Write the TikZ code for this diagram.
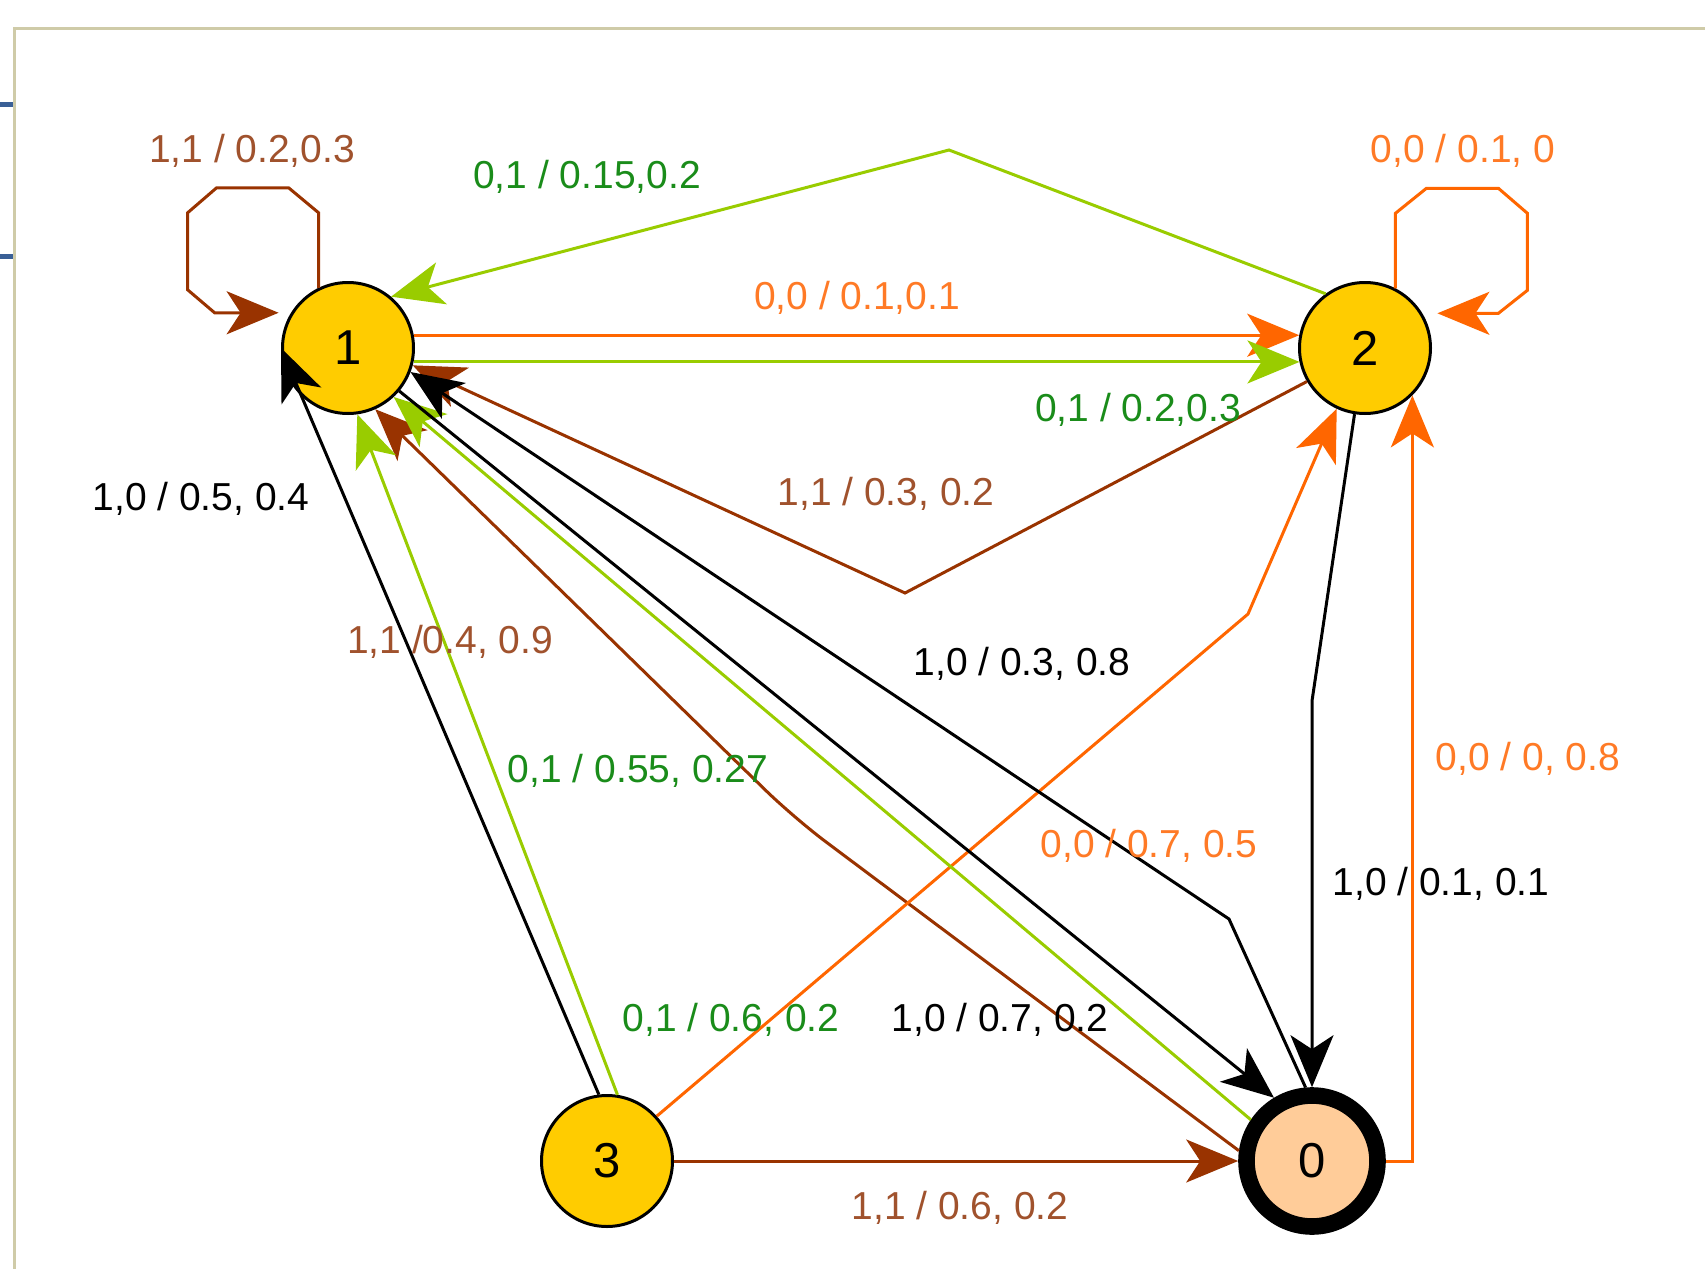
\documentclass[tikz,border=0pt]{standalone}
\usepackage{fontspec}
\setmainfont{Liberation Sans}
\usetikzlibrary{arrows.meta}

\definecolor{stategold}{HTML}{FFCC00}
\definecolor{statepeach}{HTML}{FFCC99}
\definecolor{edgebrown}{HTML}{993300}
\definecolor{edgeorange}{HTML}{FF6600}
\definecolor{edgegreen}{HTML}{99CC00}
\definecolor{txtbrown}{HTML}{A0522D}
\definecolor{txtorange}{HTML}{FF7A26}
\definecolor{txtgreen}{HTML}{1A8C1A}
\definecolor{framekhaki}{HTML}{CFCBA8}
\definecolor{tickblue}{HTML}{3A6096}

\begin{document}
\begin{tikzpicture}[
    x=0.5pt,y=-0.5pt,>={Stealth[length=26pt,width=21.5pt,inset=7pt]},
    state/.style={circle,draw=black,line width=1.5pt,fill=stategold,
      minimum size=65.5pt,inner sep=0pt,font=\fontsize{24.5}{28}\selectfont},
    final/.style={state,fill=statepeach,line width=8.3pt},
    trans/.style={->,line width=1.5pt},
    lbl/.style={font=\fontsize{19.5}{22}\selectfont,inner sep=0pt,yshift=-1.5pt}
  ]
    \useasboundingbox (0,0) rectangle (1705,1269);

    % Rahmen des Fensters
    \draw[framekhaki,line width=1.5pt] (14.5,1269) -- (14.5,28) -- (1705,28);
    \draw[tickblue,line width=2.5pt] (0,104.5) -- (13,104.5);
    \draw[tickblue,line width=2.5pt] (0,256.5) -- (13,256.5);

    % Zustaende
    \node[state] (s1) at (348,348) {1};
    \node[state] (s2) at (1365,348) {2};
    \node[state] (s3) at (607,1161) {3};
    \node[final] (s0) at (1312,1161) {0};

    % Knickpunkte
    \coordinate (peak) at (949,150);
    \coordinate (dip) at (905,593);
    \coordinate (knee) at (794,818);
    \coordinate (elbow) at (1229,919);
    \coordinate (bendA) at (1248,614);
    \coordinate (bendB) at (1312,701);

    % Eingabe 1,1
    \draw[trans,edgebrown] (s1.116) -- ++(0,-75) -- ++(-30,-25) -- ++(-72,0)
      -- ++(-29,25) -- ++(0,77) -- ++(27,23) -- ++(64,0);
    \draw[trans,edgebrown] (s2.210) -- (dip) -- (s1.-15);
    \draw[trans,edgebrown,rounded corners=20pt] (s0.172) -- (knee) -- (s1.-66);
    \draw[trans,edgebrown] (s3) -- (s0);

    % Eingabe 0,0
    \draw[trans,edgeorange] (s2.63) -- ++(0,-75) -- ++(31,-25) -- ++(72,0)
      -- ++(29,25) -- ++(0,77) -- ++(-29,23) -- ++(-61,0);
    \draw[trans,edgeorange] (s1.11) -- (s2.169);
    \draw[trans,edgeorange] (s3.42) -- (bendA) -- (s2.245);
    \draw[trans,edgeorange] (s0.east) -| (s2.-45);

    % Eingabe 0,1
    \draw[trans,edgegreen] (s2.126) -- (peak) -- (s1.50);
    \draw[trans,edgegreen] (s1.-12) -- (s2.192);
    \draw[trans,edgegreen] (s3.81) -- (s1.-82);
    \draw[trans,edgegreen] (s0.146) -- (s1.-47);

    % Eingabe 1,0
    \draw[trans] (s3.97) -- (s1.west);
    \draw[trans] (s1.-40) -- (s0.121);
    \draw[trans] (s0.95) -- (elbow) -- (s1.-21);
    \draw[trans] (s2.261) -- (bendB) -- (s0.north);

    % Beschriftungen
    \node[lbl,txtbrown] (t1) at (252,148) {1,1 / 0.2,0.3};
    \node[lbl,txtgreen] (t2) at (587,174) {0,1 / 0.15,0.2};
    \node[lbl,txtorange] (t3) at (1463,148) {0,0 / 0.1, 0};
    \node[lbl,txtorange] (t4) at (857,295) {0,0 / 0.1,0.1};
    \node[lbl,txtgreen] (t5) at (1138,407) {0,1 / 0.2,0.3};
    \node[lbl,txtbrown] (t6) at (886,491) {1,1 / 0.3, 0.2};
    \node[lbl] (t7) at (201,496) {1,0 / 0.5, 0.4};
    \node[lbl,txtbrown] (t8) at (450,639) {1,1 /0.4, 0.9};
    \node[lbl] (t9) at (1022,661) {1,0 / 0.3, 0.8};
    \node[lbl,txtgreen] (t10) at (638,768) {0,1 / 0.55, 0.27};
    \node[lbl,txtorange] (t11) at (1149,843) {0,0 / 0.7, 0.5};
    \node[lbl,txtorange] (t12) at (1528,756) {0,0 / 0, 0.8};
    \node[lbl] (t13) at (1441,881) {1,0 / 0.1, 0.1};
    \node[lbl,txtgreen] (t14) at (731,1017) {0,1 / 0.6, 0.2};
    \node[lbl] (t15) at (1000,1017) {1,0 / 0.7, 0.2};
    \node[lbl,txtbrown] (t16) at (960,1205) {1,1 / 0.6, 0.2};
  \end{tikzpicture}
\end{document}
